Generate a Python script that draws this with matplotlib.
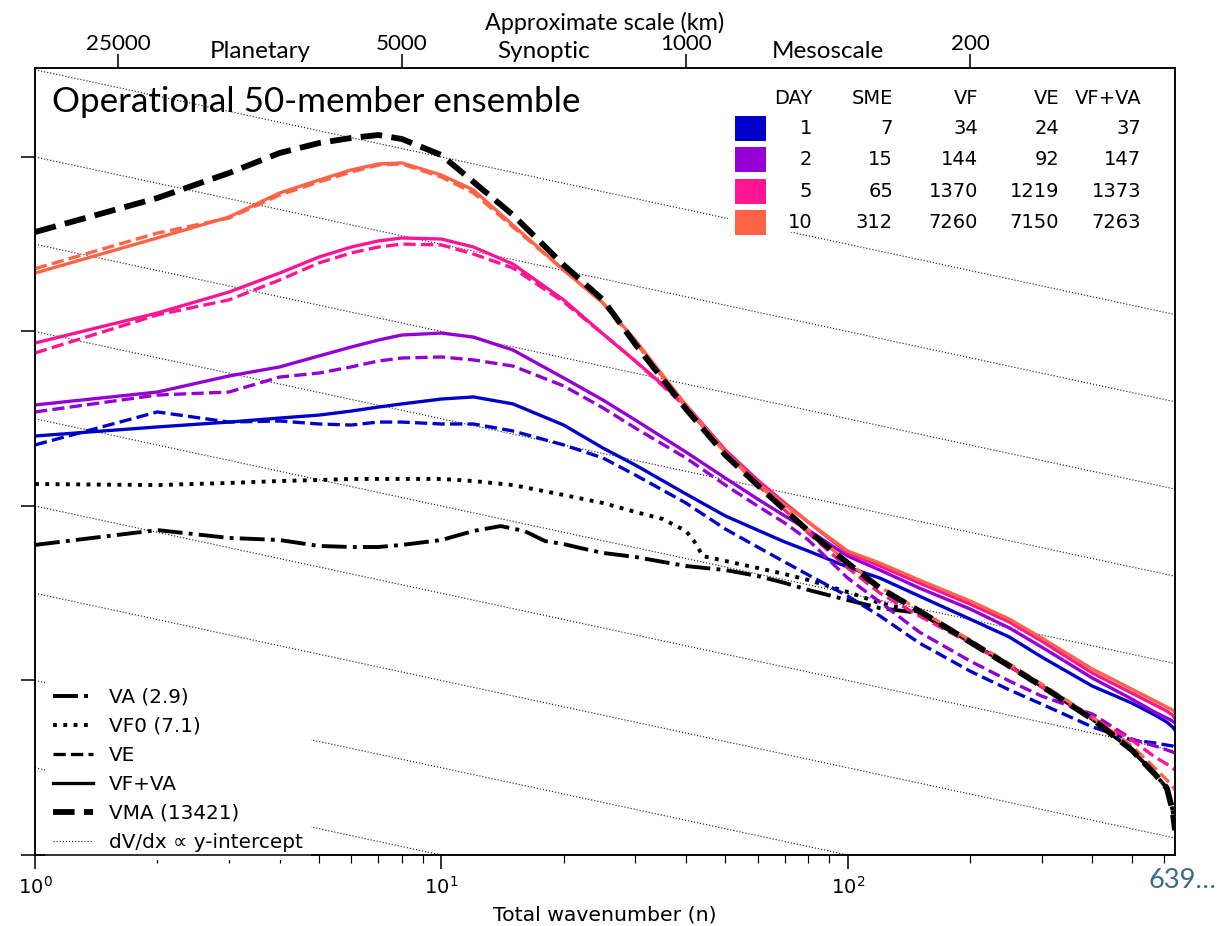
import numpy as np
import matplotlib
matplotlib.use("Agg")
import matplotlib.pyplot as plt
from matplotlib.lines import Line2D
from matplotlib.patches import Rectangle
from matplotlib.ticker import FixedLocator, FixedFormatter, NullFormatter, NullLocator

# ---------------------------------------------------------------- data
# total wavenumber n at which the spectra are tabulated
wavenumber = [1, 2, 3, 4, 5, 6, 7, 8, 10, 12, 15, 20, 25, 30, 40, 50, 60, 70, 80,
              100, 120, 150, 200, 250, 300, 400, 500, 570, 610, 630, 639]

# log10 of spectral variance
vma = [3.570, 3.765, 3.908, 4.023, 4.080, 4.109, 4.126, 4.103, 4.011, 3.857, 3.668,
       3.381, 3.181, 2.928, 2.556, 2.292, 2.120, 1.977, 1.857, 1.673, 1.530, 1.398,
       1.221, 1.083, 0.968, 0.779, 0.602, 0.464, 0.384, 0.258, 0.143]

vfva_day1 = [2.401, 2.453, 2.481, 2.504, 2.521, 2.544, 2.567, 2.585, 2.613, 2.625, 2.585,
             2.464, 2.332, 2.235, 2.069, 1.943, 1.862, 1.794, 1.742, 1.650, 1.587, 1.484,
             1.352, 1.249, 1.135, 0.968, 0.871, 0.802, 0.762, 0.734, 0.716]
ve_day1 = [2.350, 2.539, 2.481, 2.487, 2.470, 2.464, 2.481, 2.481, 2.470, 2.470, 2.430,
           2.350, 2.275, 2.178, 2.017, 1.868, 1.765, 1.679, 1.605, 1.484, 1.370, 1.215,
           1.054, 0.946, 0.865, 0.734, 0.659, 0.642, 0.630, 0.625, 0.619]

vfva_day2 = [2.579, 2.653, 2.745, 2.797, 2.860, 2.911, 2.951, 2.980, 2.991, 2.968, 2.894,
             2.734, 2.607, 2.493, 2.309, 2.160, 2.040, 1.943, 1.862, 1.713, 1.633, 1.530,
             1.410, 1.301, 1.192, 1.014, 0.894, 0.819, 0.785, 0.768, 0.756]
ve_day2 = [2.539, 2.636, 2.653, 2.739, 2.762, 2.797, 2.831, 2.848, 2.854, 2.837, 2.802,
           2.688, 2.562, 2.447, 2.275, 2.120, 2.000, 1.903, 1.805, 1.587, 1.450, 1.278,
           1.112, 0.997, 0.911, 0.808, 0.665, 0.625, 0.602, 0.590, 0.585]

vfva_day5 = [2.934, 3.106, 3.226, 3.335, 3.427, 3.484, 3.519, 3.536, 3.530, 3.484, 3.387,
             3.181, 2.986, 2.831, 2.579, 2.321, 2.149, 2.017, 1.908, 1.731, 1.656, 1.559,
             1.438, 1.335, 1.226, 1.043, 0.928, 0.860, 0.825, 0.802, 0.785]
ve_day5 = [2.877, 3.095, 3.181, 3.295, 3.393, 3.450, 3.484, 3.501, 3.496, 3.444, 3.364,
           3.169, 2.986, 2.831, 2.567, 2.309, 2.120, 1.977, 1.845, 1.645, 1.501, 1.370,
           1.215, 1.083, 0.963, 0.785, 0.659, 0.562, 0.521, 0.499, 0.487]

vfva_day10 = [3.335, 3.536, 3.656, 3.794, 3.868, 3.926, 3.960, 3.966, 3.897, 3.811, 3.610,
              3.352, 3.163, 2.951, 2.579, 2.309, 2.132, 2.006, 1.908, 1.742, 1.673, 1.576,
              1.456, 1.352, 1.244, 1.066, 0.951, 0.883, 0.848, 0.831, 0.819]
ve_day10 = [3.360, 3.564, 3.650, 3.782, 3.857, 3.914, 3.954, 3.960, 3.885, 3.794, 3.599,
            3.352, 3.163, 2.940, 2.567, 2.304, 2.126, 1.989, 1.862, 1.679, 1.536, 1.404,
            1.232, 1.095, 0.980, 0.791, 0.625, 0.499, 0.430, 0.395, 0.372]

vf0_n = [1, 2, 3, 4, 5, 6, 7, 8, 10, 12, 15, 20, 25, 30, 35, 40, 42, 44, 50, 60, 70, 80,
         100, 120, 150, 200, 250, 300, 400, 500, 570, 610, 630, 639]
vf0 = [2.126, 2.120, 2.132, 2.143, 2.149, 2.155, 2.155, 2.155, 2.155, 2.143, 2.120, 2.063,
       2.017, 1.966, 1.926, 1.857, 1.794, 1.713, 1.685, 1.645, 1.610, 1.576, 1.507, 1.444,
       1.393, 1.221, 1.083, 0.968, 0.779, 0.602, 0.464, 0.384, 0.258, 0.143]

va_n = [1, 2, 3, 4, 5, 6, 7, 8, 10, 12, 14, 16, 18, 20, 22, 25, 30, 40, 50, 60, 70, 80,
        100, 120, 150, 200, 250, 300, 400, 500, 570, 610, 630, 639]
va = [1.777, 1.862, 1.817, 1.805, 1.771, 1.765, 1.765, 1.777, 1.805, 1.857, 1.885, 1.857,
      1.799, 1.782, 1.759, 1.731, 1.708, 1.656, 1.633, 1.599, 1.559, 1.519, 1.461, 1.415,
      1.387, 1.221, 1.083, 0.968, 0.779, 0.602, 0.464, 0.384, 0.258, 0.143]

days = [1, 2, 5, 10]
day_colors = ["mediumblue", "darkviolet", "deeppink", "tomato"]
sme_total = [7, 15, 65, 312]
vf_total = [34, 144, 1370, 7260]
ve_total = [24, 92, 1219, 7150]
vfva_total = [37, 147, 1373, 7263]
table_header = ["DAY", "SME", "VF", "VE", "VF+VA"]

legend_labels = ["VA (2.9)", "VF0 (7.1)", "VE", "VF+VA", "VMA (13421)",
                 "dV/dx \u221d y-intercept"]

scale_km = [25000, 5000, 1000, 200]
regimes = ["Planetary", "Synoptic", "Mesoscale"]
EARTH_CIRCUMFERENCE_KM = 40000
ref_intercepts = np.arange(0.0, 5.0, 0.5)   # log10 y-intercepts at n = 1
REF_SLOPE = -0.5

N_MAX = 639
TOP_FONT = "Lato"

# ---------------------------------------------------------------- figure
W, H, DPI = 1222, 926, 140
fig = plt.figure(figsize=(W / DPI, H / DPI), dpi=DPI)
ax = fig.add_axes([35 / W, 71 / H, 1140 / W, 787 / H])
ax.set_xscale("log")
ax.set_yscale("log")
ax.set_xlim(1, N_MAX)
ax.set_ylim(1, 10 ** 4.51)

n = np.array(wavenumber, dtype=float)

# reference slopes
n_ref = np.geomspace(1, N_MAX, 200)
for c in ref_intercepts:
    ax.plot(n_ref, 10 ** c * n_ref ** REF_SLOPE, ls=":", lw=0.6, color="0.15", zorder=1)

# analysis and free-forecast variances
ax.plot(va_n, np.power(10.0, va), color="k", lw=2.0, ls="-.", zorder=2)
ax.plot(vf0_n, np.power(10.0, vf0), color="k", lw=2.0, ls=":", zorder=2)

vfva_series = [vfva_day1, vfva_day2, vfva_day5, vfva_day10]
ve_series = [ve_day1, ve_day2, ve_day5, ve_day10]
for vfva, ve, col in zip(vfva_series, ve_series, day_colors):
    ax.plot(n, np.power(10.0, vfva), color=col, lw=1.7, ls="-", zorder=3)
    ax.plot(n, np.power(10.0, ve), color=col, lw=1.7, ls="--", zorder=3)

ax.plot(n, np.power(10.0, vma), color="k", lw=3.0, ls="--", zorder=4)

# axes styling
ax.yaxis.set_major_formatter(NullFormatter())
ax.yaxis.set_minor_locator(NullLocator())
ax.tick_params(axis="y", which="major", length=7)
ax.tick_params(axis="x", which="major", length=7, labelsize=10)
ax.tick_params(axis="x", which="minor", length=4)
ax.set_xlabel("Total wavenumber (n)", fontsize=10.5, labelpad=4)

# top axis: approximate horizontal scale
ax2 = ax.twiny()
ax2.set_xscale("log")
ax2.set_xlim(ax.get_xlim())
scale_n = [EARTH_CIRCUMFERENCE_KM / s for s in scale_km]
regime_n = [np.sqrt(a * b) for a, b in zip(scale_n[:-1], scale_n[1:])]
ax2.xaxis.set_major_locator(FixedLocator(scale_n))
ax2.xaxis.set_major_formatter(FixedFormatter([str(s) for s in scale_km]))
ax2.xaxis.set_minor_locator(FixedLocator(regime_n))
ax2.xaxis.set_minor_formatter(FixedFormatter(regimes))
ax2.tick_params(axis="x", which="major", length=7, pad=0)
ax2.tick_params(axis="x", which="minor", length=0, pad=3)
for lab in ax2.get_xticklabels(which="major"):
    lab.set_fontfamily(TOP_FONT)
    lab.set_fontsize(11.5)
for lab in ax2.get_xticklabels(which="minor"):
    lab.set_fontfamily(TOP_FONT)
    lab.set_fontsize(12.5)
ax2.set_xlabel("Approximate scale (km)", fontfamily=TOP_FONT, fontsize=12, labelpad=2)

# title inside the panel
ax.text(0.015, 0.957, "Operational 50-member ensemble", transform=ax.transAxes,
        fontfamily=TOP_FONT, fontsize=18, va="center", ha="left", zorder=6)

# line-style legend
handles = [
    Line2D([], [], color="k", lw=2.0, ls="-."),
    Line2D([], [], color="k", lw=2.0, ls=":"),
    Line2D([], [], color="k", lw=1.7, ls="--"),
    Line2D([], [], color="k", lw=1.7, ls="-"),
    Line2D([], [], color="k", lw=3.0, ls="--"),
    Line2D([], [], color="0.15", lw=0.6, ls=":"),
]
leg = ax.legend(handles, legend_labels, loc="lower left", fontsize=10.3,
                labelspacing=0.5, bbox_to_anchor=(0.0, -0.019),
                frameon=True, fancybox=False, framealpha=1.0)
leg.get_frame().set_edgecolor("none")
leg.set_zorder(5)

# table of totals per forecast day
def fx(px):
    return (px - 35) / 1140

def fy(py):
    return (855 - py) / 787

ax.add_patch(Rectangle((fx(728), fy(232)), fx(1150) - fx(728), fy(80) - fy(232),
                       transform=ax.transAxes, facecolor="white", edgecolor="none",
                       zorder=5))
col_right = [812, 893, 978, 1059, 1141]
header_y = 98
row_y = [128, 159, 191, 222]
for xr, h in zip(col_right, table_header):
    ax.text(fx(xr), fy(header_y), h, transform=ax.transAxes, ha="right", va="center",
            fontsize=10, zorder=6)
for i, (d, col) in enumerate(zip(days, day_colors)):
    yy = fy(row_y[i])
    ax.add_patch(Rectangle((fx(735), yy - 12.5 / 787), 31 / 1140, 25 / 787,
                           transform=ax.transAxes, facecolor=col, edgecolor="none",
                           zorder=6))
    vals = [d, sme_total[i], vf_total[i], ve_total[i], vfva_total[i]]
    for xr, v in zip(col_right, vals):
        ax.text(fx(xr), yy, str(v), transform=ax.transAxes, ha="right", va="center",
                fontsize=10, zorder=6)

fig.text(1148 / W, 1 - 880 / H, "639\u2026", fontfamily=TOP_FONT, fontsize=14,
         color="#3a6a8a", ha="left", va="center")

fig.savefig("out.png", dpi=DPI)
